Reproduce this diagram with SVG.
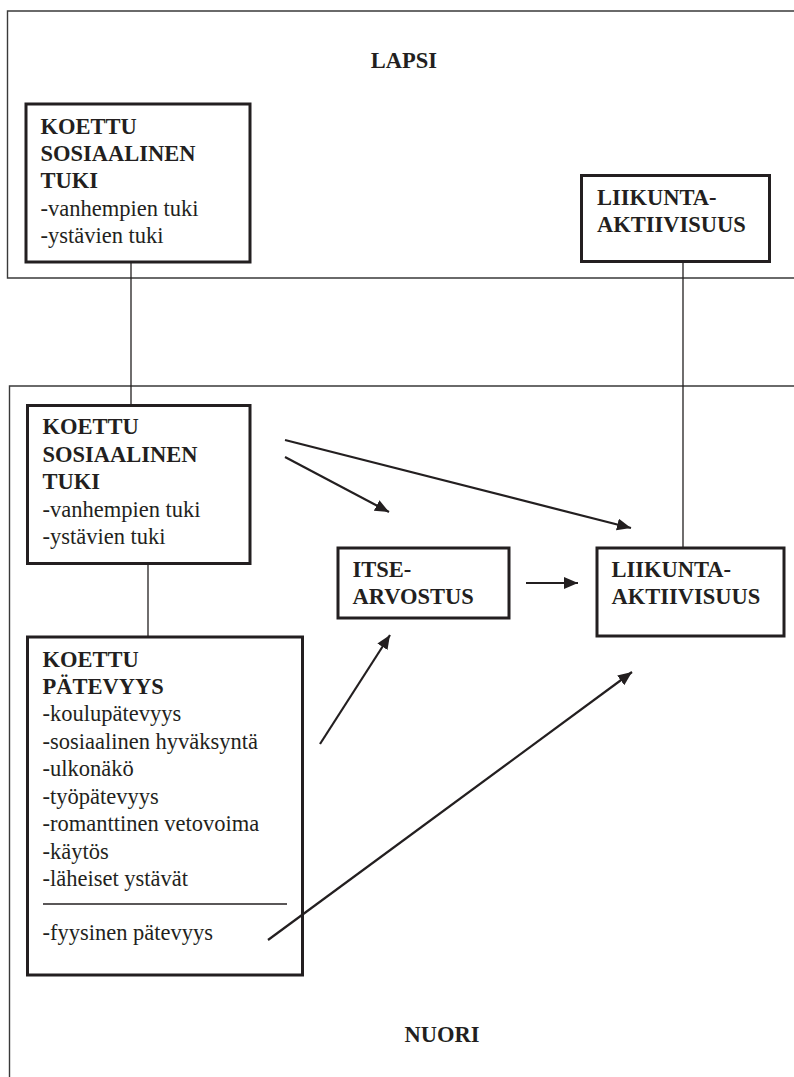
<svg xmlns="http://www.w3.org/2000/svg" width="794" height="1077" viewBox="0 0 794 1077" font-family="'Liberation Serif', 'Times New Roman', Times, serif" font-size="22.5">
  <style>
    .frame { fill: none; stroke: #3a3a3a; stroke-width: 1.4; }
    .box { fill: none; stroke: #231f20; stroke-width: 3; }
    .link { fill: none; stroke: #231f20; stroke-width: 1.3; }
    .arrow { fill: none; stroke: #231f20; stroke-width: 2.2; marker-end: url(#head); }
    .t { font-family: "Liberation Serif", "Times New Roman", Times, serif; font-size: 22.5px; fill: #231f20; }
    .b { font-weight: bold; }
  </style>
  <defs>
    <marker id="head" markerUnits="userSpaceOnUse" markerWidth="16" markerHeight="14" refX="14" refY="6" orient="auto">
      <path d="M0,0 L14,6 L0,12 Z" fill="#231f20"/>
    </marker>
  </defs>

  <rect width="794" height="1077" fill="#ffffff"/>

  <!-- age-group frames -->
  <g id="frame-lapsi">
    <path class="frame" d="M794,11 H7.5 V278 H794"/>
    <text class="t b" x="404" y="68" text-anchor="middle">LAPSI</text>
  </g>
  <g id="frame-nuori">
    <path class="frame" d="M794,386 H9.5 V1077"/>
    <text class="t b" x="442" y="1042" text-anchor="middle">NUORI</text>
  </g>

  <!-- connectors -->
  <g id="connectors">
    <line class="link" x1="131" y1="263" x2="131" y2="404"/>
    <line class="link" x1="683" y1="263" x2="683" y2="547"/>
    <line class="link" x1="148" y1="565" x2="148" y2="636"/>
    <line class="arrow" x1="285" y1="440" x2="631" y2="528"/>
    <line class="arrow" x1="285" y1="457" x2="389" y2="512"/>
    <line class="arrow" x1="526" y1="583" x2="578" y2="583"/>
    <line class="arrow" x1="320" y1="744" x2="390" y2="635"/>
    <line class="arrow" x1="268" y1="940" x2="632" y2="672"/>
  </g>

  <!-- child: perceived social support -->
  <g id="lapsi-tuki">
    <rect class="box" x="26" y="104" width="224" height="158"/>
    <text x="40.5" y="134" class="t b">KOETTU</text>
    <text x="40.5" y="161" class="t b">SOSIAALINEN</text>
    <text x="40.5" y="188" class="t b">TUKI</text>
    <text x="40.5" y="216" class="t">-vanhempien tuki</text>
    <text x="40.5" y="243" class="t">-ystävien tuki</text>
  </g>

  <!-- child: physical activity -->
  <g id="lapsi-liikunta">
    <rect class="box" x="581.5" y="175.5" width="188" height="86"/>
    <text x="597" y="205" class="t b">LIIKUNTA-</text>
    <text x="597" y="232" class="t b">AKTIIVISUUS</text>
  </g>

  <!-- adolescent: perceived social support -->
  <g id="nuori-tuki">
    <rect class="box" x="27.5" y="405.5" width="222.5" height="158"/>
    <text x="42.5" y="434" class="t b">KOETTU</text>
    <text x="42.5" y="461.5" class="t b">SOSIAALINEN</text>
    <text x="42.5" y="489" class="t b">TUKI</text>
    <text x="42.5" y="516.5" class="t">-vanhempien tuki</text>
    <text x="42.5" y="544" class="t">-ystävien tuki</text>
  </g>

  <!-- adolescent: self-esteem -->
  <g id="nuori-itsearvostus">
    <rect class="box" x="338" y="548" width="171" height="70"/>
    <text x="352.5" y="577" class="t b">ITSE-</text>
    <text x="352.5" y="604" class="t b">ARVOSTUS</text>
  </g>

  <!-- adolescent: physical activity -->
  <g id="nuori-liikunta">
    <rect class="box" x="597" y="548" width="187" height="88"/>
    <text x="611.5" y="577" class="t b">LIIKUNTA-</text>
    <text x="611.5" y="604" class="t b">AKTIIVISUUS</text>
  </g>

  <!-- adolescent: perceived competence -->
  <g id="nuori-patevyys">
    <rect class="box" x="27.5" y="637" width="275" height="338"/>
    <text x="42.5" y="667" class="t b">KOETTU</text>
    <text x="42.5" y="694" class="t b">PÄTEVYYS</text>
    <text x="42.5" y="721" class="t">-koulupätevyys</text>
    <text x="42.5" y="748.5" class="t">-sosiaalinen hyväksyntä</text>
    <text x="42.5" y="776" class="t">-ulkonäkö</text>
    <text x="42.5" y="803.5" class="t">-työpätevyys</text>
    <text x="42.5" y="831" class="t">-romanttinen vetovoima</text>
    <text x="42.5" y="858.5" class="t">-käytös</text>
    <text x="42.5" y="886" class="t">-läheiset ystävät</text>
    <line x1="43" y1="904" x2="287" y2="904" stroke="#231f20" stroke-width="1.5"/>
    <text x="42.5" y="940" class="t">-fyysinen pätevyys</text>
  </g>
</svg>
